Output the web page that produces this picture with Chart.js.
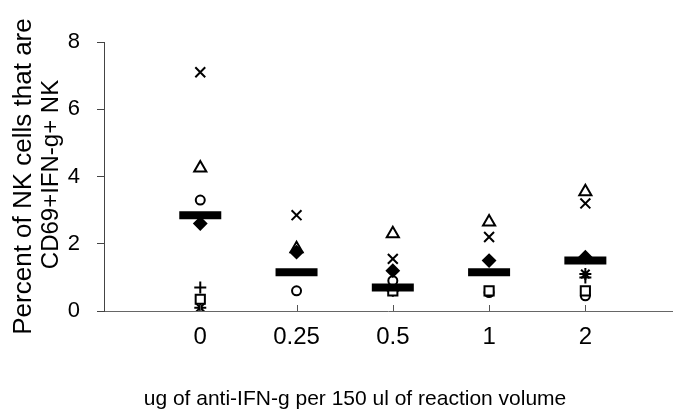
<!DOCTYPE html>
<html>
<head>
<meta charset="utf-8">
<script src="https://cdn.jsdelivr.net/npm/chart.js@4/dist/chart.umd.min.js"></script>
<style>
  html, body { margin: 0; padding: 0; background: #fff; overflow: hidden; }
  canvas { display: block; }
</style>
</head>
<body>
<canvas id="chart" width="674" height="414"></canvas>
<script>
// doses on the x axis
const categories = ['0', '0.25', '0.5', '1', '2'];
const yTicks = [0, 2, 4, 6, 8];

// one array per donor (marker), null where nothing is visible
const diamondVals  = [2.6, 1.75, 1.2, 1.5, 1.6];
const squareVals   = [0.35, null, 0.6, 0.6, 0.6];
const triangleVals = [4.25, 1.85, 2.3, 2.65, 3.55];
const crossVals    = [7.1, 2.85, 1.55, 2.2, 3.2];
const starVals     = [0.1, null, 0.6, null, 1.1];
const circleVals   = [3.3, 0.6, 0.9, 0.55, 0.45];
const plusVals     = [0.7, null, null, null, 1.0];
const meanVals     = [2.85, 1.15, 0.7, 1.15, 1.5];

const toPoints = arr => arr.map((v, i) => ({ x: i, y: v })).filter(p => p.y !== null);

const FONT = "'Liberation Sans', Arial, sans-serif";

function series(label, arr, style, radius, filled) {
    return {
        label: label,
        data: toPoints(arr),
        pointStyle: style,
        pointRadius: radius,
        pointBorderWidth: 2,
        borderColor: '#000',
        pointBorderColor: '#000',
        pointBackgroundColor: filled ? '#000' : '#fff',
        showLine: false,
        order: 1
    };
}

// axis titles + inward x ticks
const extras = {
    id: 'extras',
    afterDraw(chart) {
        const ctx = chart.ctx;
        const xs = chart.scales.x;
        const area = chart.chartArea;
        ctx.save();
        ctx.strokeStyle = '#555';
        ctx.lineWidth = 1;
        categories.forEach((c, i) => {
            const px = Math.round(xs.getPixelForValue(i)) + 0.5;
            ctx.beginPath();
            ctx.moveTo(px, area.bottom);
            ctx.lineTo(px, area.bottom - 6);
            ctx.stroke();
        });
        ctx.fillStyle = '#000';
        ctx.textAlign = 'center';
        ctx.textBaseline = 'middle';
        ctx.font = '21px ' + FONT;
        ctx.fillText('ug of anti-IFN-g per 150 ul of reaction volume', 355, 399);
        const midY = (area.top + area.bottom) / 2;
        ctx.translate(24, midY);
        ctx.rotate(-Math.PI / 2);
        ctx.font = '26px ' + FONT;
        ctx.fillText('Percent of NK cells that are', 0, 0);
        ctx.font = '24px ' + FONT;
        ctx.fillText('CD69+IFN-g+ NK', 2, 27);
        ctx.restore();
    }
};

new Chart(document.getElementById('chart'), {
    type: 'scatter',
    data: {
        datasets: [
            {
                label: 'mean',
                data: toPoints(meanVals),
                pointStyle: 'line',
                pointRadius: 21,
                pointBorderWidth: 8,
                pointBorderColor: '#000',
                borderColor: '#000',
                showLine: false,
                order: 0
            },
            series('A', diamondVals, 'rectRot', 6, true),
            series('B', squareVals, 'rect', 6.5, false),
            series('C', triangleVals, 'triangle', 7, false),
            series('D', crossVals, 'crossRot', 7, false),
            series('E', starVals, 'star', 6, false),
            series('F', circleVals, 'circle', 4.5, false),
            series('G', plusVals, 'cross', 6, false)
        ]
    },
    options: {
        responsive: false,
        animation: false,
        devicePixelRatio: 1,
        events: [],
        layout: { autoPadding: false, padding: { top: 42, right: 2, left: 0, bottom: 0 } },
        plugins: { legend: { display: false }, tooltip: { enabled: false } },
        scales: {
            x: {
                type: 'linear',
                min: -1,
                max: 4.9,
                afterBuildTicks: s => { s.ticks = categories.map((c, i) => ({ value: i })); },
                afterFit: s => { s.height = 103; },
                ticks: {
                    autoSkip: false,
                    maxRotation: 0,
                    padding: 12,
                    color: '#000',
                    font: { family: FONT, size: 24 },
                    callback: v => categories[v]
                },
                grid: { drawOnChartArea: false, drawTicks: false },
                border: { color: '#666', width: 1 }
            },
            y: {
                min: 0,
                max: 8,
                afterBuildTicks: s => { s.ticks = yTicks.map(v => ({ value: v })); },
                afterFit: s => { s.width = 104; },
                ticks: {
                    padding: 17,
                    color: '#000',
                    font: { family: FONT, size: 22 }
                },
                grid: { drawOnChartArea: false, drawTicks: true, tickLength: 7, color: '#444' },
                border: { color: '#444', width: 1 }
            }
        }
    },
    plugins: [extras]
});
</script>
</body>
</html>
